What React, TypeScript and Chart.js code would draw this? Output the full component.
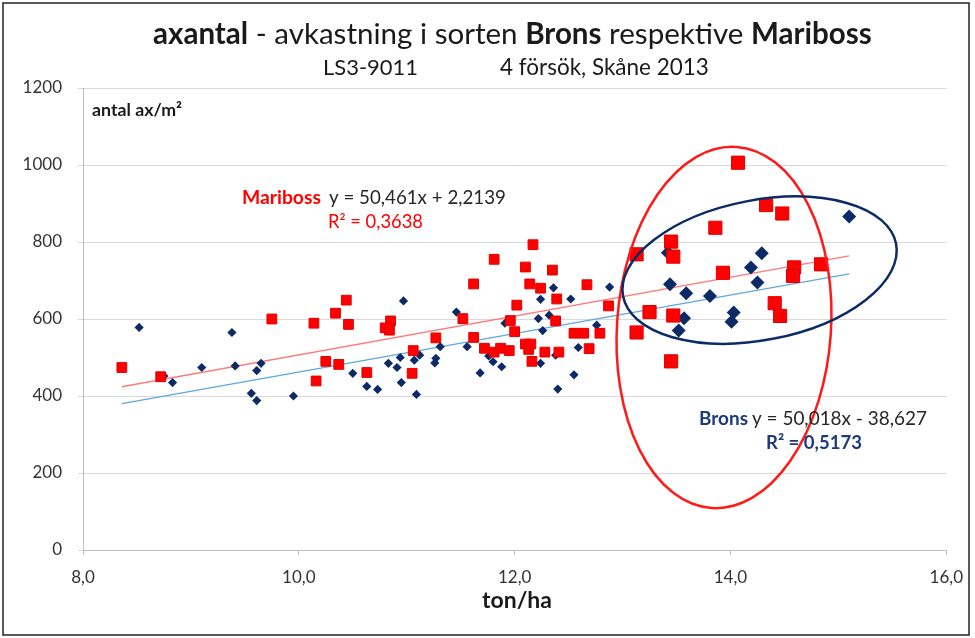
import React, { useEffect, useRef } from 'react';
import { Chart, registerables } from 'chart.js';

Chart.register(...registerables);

const FONT = 'Lato, "Open Sans", "DejaVu Sans", sans-serif';
const NAVY = '#0b2a66';
const RED = '#ff0000';

// Brons – small markers
const bronsX = [8.52, 8.75, 8.83, 9.10, 9.38, 9.41, 9.65, 9.61, 9.56, 9.61, 9.95, 10.50, 10.63, 10.73, 10.97, 10.83, 10.91, 10.94, 10.95, 11.07, 11.12, 11.09, 11.31, 11.27, 11.26, 11.46, 11.56, 11.68, 11.76, 11.80, 11.88, 11.91, 12.24, 12.36, 12.52, 12.88, 12.22, 12.32, 12.26, 12.24, 12.38, 12.40, 12.76, 12.59, 12.55];
const bronsY = [578, 452, 435, 474, 565, 478, 485, 466, 407, 388, 400, 459, 425, 417, 647, 485, 474, 500, 435, 493, 506, 404, 528, 498, 486, 618, 528, 460, 504, 489, 476, 589, 651, 681, 652, 683, 601, 610, 570, 485, 506, 418, 584, 526, 455];

// Brons – large markers (inside ellipse)
const bronsStorX = [13.42, 13.44, 13.59, 13.81, 14.29, 14.19, 14.25, 13.57, 13.52, 14.03, 14.01, 15.10];
const bronsStorY = [772, 690, 667, 660, 771, 734, 695, 602, 570, 617, 593, 866];

// Mariboss – small markers
const maribossX = [8.36, 8.72, 9.75, 10.16, 10.14, 10.34, 10.44, 10.46, 10.25, 10.37, 10.63, 10.85, 10.80, 10.84, 11.06, 11.05, 11.27, 11.52, 11.62, 11.81, 11.62, 11.72, 11.81, 11.87, 11.95, 11.96, 12.00, 12.02, 12.17, 12.10, 12.35, 12.14, 12.24, 12.39, 12.67, 12.87, 12.38, 12.10, 12.15, 12.13, 12.16, 12.28, 12.41, 12.55, 12.64, 12.79, 12.69];
const maribossY = [474, 450, 600, 439, 589, 615, 649, 586, 490, 482, 461, 595, 577, 571, 518, 459, 551, 601, 691, 755, 552, 524, 514, 524, 518, 596, 567, 636, 793, 735, 727, 691, 680, 652, 689, 634, 595, 535, 535, 521, 490, 514, 514, 563, 563, 563, 523];

// Mariboss – large markers (inside ellipse)
const maribossStorX = [13.13, 13.25, 13.13, 14.07, 14.33, 14.48, 13.86, 13.45, 13.47, 13.93, 13.47, 14.41, 14.46, 13.45, 14.59, 14.58, 14.84];
const maribossStorY = [768, 618, 565, 1006, 896, 874, 837, 801, 762, 720, 609, 641, 608, 490, 734, 712, 742];

// Trend line end points
const maribossTrendX = [8.36, 15.10];
const maribossTrendY = [424, 764];
const bronsTrendX = [8.36, 15.10];
const bronsTrendY = [380, 717];

const xTicks = [8, 10, 12, 14, 16];
const yTicks = [0, 200, 400, 600, 800, 1000, 1200];

const zip = (xs: number[], ys: number[]) => xs.map((x, i) => ({ x, y: ys[i] }));

type Run = { t: string; b?: boolean; c?: string };

function drawRuns(ctx: CanvasRenderingContext2D, runs: Run[], x: number, y: number, targetW: number, align: 'left' | 'center') {
  const base = 20;
  let total = 0;
  for (const r of runs) {
    ctx.font = `${r.b ? 'bold ' : ''}${base}px ${FONT}`;
    total += ctx.measureText(r.t).width;
  }
  const size = (base * targetW) / total;
  let cx = align === 'center' ? x - targetW / 2 : x;
  ctx.textBaseline = 'middle';
  ctx.textAlign = 'left';
  for (const r of runs) {
    ctx.font = `${r.b ? 'bold ' : ''}${size}px ${FONT}`;
    ctx.fillStyle = r.c || '#1a1a1a';
    ctx.fillText(r.t, cx, y);
    cx += ctx.measureText(r.t).width;
  }
}

const decor = {
  id: 'decor',
  afterDatasetsDraw(chart: any) {
    const ctx = chart.ctx as CanvasRenderingContext2D;
    const xs = chart.scales.x;
    const ys = chart.scales.y;
    ctx.save();
    // red ellipse (Mariboss group)
    ctx.beginPath();
    ctx.ellipse(xs.getPixelForValue(13.94), ys.getPixelForValue(578), 107, 181, 0.07, 0, Math.PI * 2);
    ctx.strokeStyle = '#ff1a1a';
    ctx.lineWidth = 2.5;
    ctx.stroke();
    // navy ellipse (Brons group)
    ctx.beginPath();
    ctx.ellipse(xs.getPixelForValue(14.27), ys.getPixelForValue(727), 139, 70, -0.19, 0, Math.PI * 2);
    ctx.strokeStyle = '#0b2a66';
    ctx.lineWidth = 2.5;
    ctx.stroke();
    ctx.restore();
  },
  afterDraw(chart: any) {
    const ctx = chart.ctx as CanvasRenderingContext2D;
    ctx.save();
    // Title
    drawRuns(ctx, [
      { t: 'axantal', b: true },
      { t: ' - avkastning i sorten ' },
      { t: 'Brons', b: true },
      { t: ' respektive ' },
      { t: 'Mariboss', b: true },
    ], 512.5, 34, 719, 'center');
    drawRuns(ctx, [{ t: 'LS3-9011' }], 323, 68, 95, 'left');
    drawRuns(ctx, [{ t: '4 försök, Skåne 2013' }], 500, 68, 209, 'left');
    // axis titles
    drawRuns(ctx, [{ t: 'antal ax/m²', b: true }], 92, 110, 90, 'left');
    drawRuns(ctx, [{ t: 'ton/ha', b: true }], 517, 601, 70, 'center');
    // Mariboss annotation
    drawRuns(ctx, [{ t: 'Mariboss', b: true, c: '#ff0000' }], 242, 198, 79, 'left');
    drawRuns(ctx, [{ t: 'y = 50,461x + 2,2139', c: '#262626' }], 329, 198, 177, 'left');
    drawRuns(ctx, [{ t: 'R² = 0,3638', c: '#ff0000' }], 328, 222, 95, 'left');
    // Brons annotation
    drawRuns(ctx, [{ t: 'Brons', b: true, c: '#1f3a7a' }], 699, 419, 49, 'left');
    drawRuns(ctx, [{ t: 'y = 50,018x - 38,627', c: '#262626' }], 752, 419, 175, 'left');
    drawRuns(ctx, [{ t: 'R² = 0,5173', b: true, c: '#1f3a7a' }], 766, 443, 96, 'left');
    // frame
    ctx.strokeStyle = '#222';
    ctx.lineWidth = 1.5;
    ctx.strokeRect(3, 3, 966, 632);
    ctx.restore();
  },
};

export default function App() {
  const ref = useRef<HTMLCanvasElement | null>(null);
  useEffect(() => {
    if (!ref.current) return;
    const chart = new Chart(ref.current, {
      type: 'scatter',
      data: {
        datasets: [
          {
            label: 'Mariboss stor',
            data: zip(maribossStorX, maribossStorY),
            pointStyle: 'rect',
            pointRadius: 9.3,
            backgroundColor: RED,
            borderColor: '#e00000',
            borderWidth: 1,
            order: 1,
          },
          {
            label: 'Mariboss',
            data: zip(maribossX, maribossY),
            pointStyle: 'rect',
            pointRadius: 6.9,
            backgroundColor: RED,
            borderColor: '#e00000',
            borderWidth: 1,
            order: 2,
          },
          {
            label: 'Brons stor',
            data: zip(bronsStorX, bronsStorY),
            pointStyle: 'rectRot',
            pointRadius: 7,
            backgroundColor: NAVY,
            borderColor: NAVY,
            borderWidth: 0,
            order: 3,
          },
          {
            label: 'Brons',
            data: zip(bronsX, bronsY),
            pointStyle: 'rectRot',
            pointRadius: 4.6,
            backgroundColor: NAVY,
            borderColor: NAVY,
            borderWidth: 0,
            order: 4,
          },
          {
            label: 'Trend Mariboss',
            data: zip(maribossTrendX, maribossTrendY),
            showLine: true,
            pointRadius: 0,
            borderColor: '#ff7a7a',
            borderWidth: 1.3,
            order: 6,
          },
          {
            label: 'Trend Brons',
            data: zip(bronsTrendX, bronsTrendY),
            showLine: true,
            pointRadius: 0,
            borderColor: '#5ea8e0',
            borderWidth: 1.3,
            order: 7,
          },
        ],
      },
      options: {
        animation: false,
        responsive: false,
        maintainAspectRatio: false,
        events: [],
        layout: { padding: { top: 88, right: 22, left: 0, bottom: 0 } },
        plugins: {
          legend: { display: false },
          title: { display: false },
          tooltip: { enabled: false },
        },
        scales: {
          x: {
            type: 'linear',
            min: 8,
            max: 16,
            afterBuildTicks: (s: any) => {
              s.ticks = xTicks.map((v) => ({ value: v }));
            },
            afterFit: (s: any) => {
              s.height = 88;
            },
            ticks: {
              callback: (v: any) => Number(v).toFixed(1).replace('.', ','),
              font: { family: FONT, size: 17 },
              color: '#333',
              padding: 12,
              maxRotation: 0,
            },
            grid: { drawOnChartArea: false, drawTicks: true, tickLength: 5, color: '#bfbfbf' },
            border: { display: true, color: '#bfbfbf' },
          },
          y: {
            min: 0,
            max: 1200,
            afterBuildTicks: (s: any) => {
              s.ticks = yTicks.map((v) => ({ value: v }));
            },
            afterFit: (s: any) => {
              s.width = 83;
            },
            ticks: {
              callback: (v: any) => String(v),
              font: { family: FONT, size: 17 },
              color: '#333',
              padding: 16,
            },
            grid: { color: '#d9d9d9', tickLength: 5, drawTicks: true },
            border: { display: true, color: '#bfbfbf' },
          },
        },
      },
      plugins: [decor],
    } as any);
    return () => chart.destroy();
  }, []);
  return (
    <div style={{ position: 'absolute', left: 0, top: 0, width: 975, height: 638, background: '#fff' }}>
      <canvas ref={ref} width={975} height={638} style={{ display: 'block', width: 975, height: 638 }} />
    </div>
  );
}
